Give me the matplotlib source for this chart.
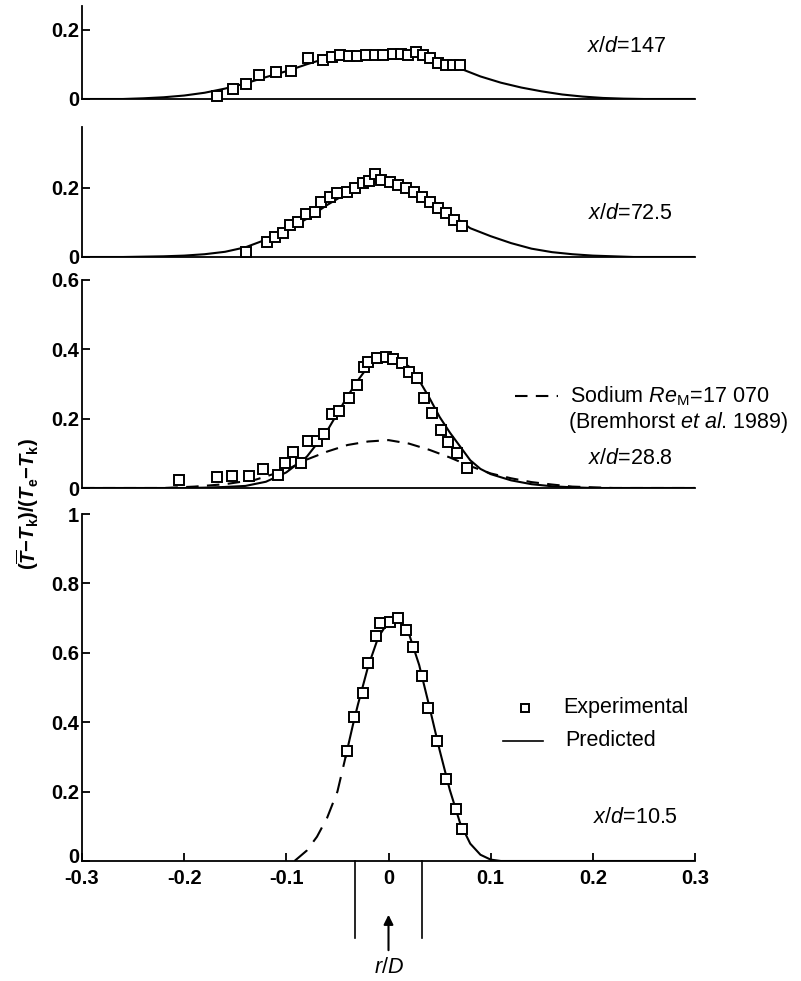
import matplotlib
matplotlib.use('Agg')
import matplotlib.pyplot as plt
import matplotlib.transforms as mtransforms
import numpy as np

plt.rcParams['font.family'] = ['Liberation Sans', 'DejaVu Sans']
plt.rcParams['mathtext.fontset'] = 'custom'
plt.rcParams['mathtext.it'] = 'Liberation Sans:italic'
plt.rcParams['mathtext.rm'] = 'Liberation Sans'
plt.rcParams['mathtext.bf'] = 'Liberation Sans:bold:italic'
plt.rcParams['mathtext.sf'] = 'Liberation Sans:bold'

# x/d = 147
exp147_r = [-0.168, -0.152, -0.139, -0.127, -0.110, -0.095, -0.079, -0.064, -0.055, -0.047,
            -0.039, -0.031, -0.022, -0.013, -0.005, 0.004, 0.012, 0.019, 0.027, 0.034,
            0.041, 0.048, 0.056, 0.063, 0.070]
exp147_v = [0.010, 0.030, 0.043, 0.069, 0.079, 0.081, 0.117, 0.113, 0.120, 0.127,
            0.125, 0.124, 0.126, 0.127, 0.128, 0.130, 0.130, 0.128, 0.135, 0.126,
            0.117, 0.105, 0.098, 0.097, 0.098]
pred147_r = [-0.30, -0.26, -0.24, -0.22, -0.20, -0.18, -0.16, -0.14, -0.12, -0.10, -0.08,
             -0.06, -0.04, -0.02, 0.0, 0.02, 0.03, 0.05, 0.07, 0.09, 0.11, 0.13, 0.15,
             0.17, 0.19, 0.21, 0.23, 0.25, 0.30]
pred147_v = [0.0, 0.0, 0.002, 0.005, 0.010, 0.018, 0.030, 0.045, 0.063, 0.080, 0.100,
             0.118, 0.125, 0.127, 0.128, 0.130, 0.128, 0.108, 0.088, 0.065, 0.047, 0.033,
             0.022, 0.013, 0.007, 0.003, 0.001, 0.0, 0.0]

# x/d = 72.5
exp72_r = [-0.139, -0.119, -0.111, -0.103, -0.096, -0.089, -0.081, -0.072, -0.066, -0.057,
           -0.050, -0.041, -0.033, -0.025, -0.019, -0.013, -0.007, 0.001, 0.009, 0.017,
           0.025, 0.033, 0.041, 0.048, 0.056, 0.064, 0.072]
exp72_v = [0.014, 0.043, 0.058, 0.069, 0.092, 0.100, 0.124, 0.130, 0.159, 0.173,
           0.184, 0.188, 0.200, 0.214, 0.219, 0.240, 0.221, 0.216, 0.207, 0.198,
           0.186, 0.174, 0.158, 0.142, 0.126, 0.108, 0.090]
pred72_r = [-0.30, -0.26, -0.22, -0.20, -0.18, -0.16, -0.14, -0.12, -0.10, -0.08, -0.06,
            -0.04, -0.02, -0.01, 0.0, 0.02, 0.04, 0.06, 0.08, 0.10, 0.12, 0.14, 0.16,
            0.18, 0.20, 0.22, 0.24, 0.30]
pred72_v = [0.0, 0.0, 0.002, 0.004, 0.008, 0.015, 0.028, 0.050, 0.078, 0.110, 0.150,
            0.185, 0.212, 0.218, 0.217, 0.205, 0.170, 0.125, 0.083, 0.060, 0.040, 0.024,
            0.014, 0.008, 0.004, 0.002, 0.0, 0.0]

# x/d = 28.8
exp28_r = [-0.205, -0.168, -0.153, -0.137, -0.123, -0.108, -0.101, -0.093, -0.086, -0.079,
           -0.070, -0.063, -0.055, -0.048, -0.039, -0.031, -0.024, -0.020, -0.011, -0.002,
           0.004, 0.013, 0.020, 0.028, 0.035, 0.043, 0.051, 0.058, 0.067, 0.077]
exp28_v = [0.023, 0.032, 0.035, 0.035, 0.055, 0.037, 0.072, 0.104, 0.072, 0.135,
           0.135, 0.156, 0.213, 0.222, 0.259, 0.297, 0.349, 0.363, 0.375, 0.378,
           0.372, 0.360, 0.334, 0.317, 0.259, 0.216, 0.167, 0.133, 0.100, 0.058]
pred28_r = [-0.30, -0.20, -0.18, -0.16, -0.14, -0.12, -0.10, -0.08, -0.06, -0.05, -0.04,
            -0.03, -0.02, -0.01, 0.0, 0.01, 0.02, 0.03, 0.04, 0.05, 0.06, 0.07, 0.08,
            0.09, 0.10, 0.12, 0.14, 0.16, 0.18, 0.20, 0.30]
pred28_v = [0.0, 0.0, 0.001, 0.003, 0.006, 0.018, 0.045, 0.090, 0.165, 0.215, 0.265,
            0.310, 0.350, 0.370, 0.375, 0.370, 0.350, 0.310, 0.260, 0.205, 0.160, 0.120,
            0.080, 0.055, 0.040, 0.022, 0.011, 0.005, 0.002, 0.0, 0.0]
sodium_r = [-0.30, -0.22, -0.19, -0.16, -0.13, -0.10, -0.08, -0.06, -0.04, -0.02, 0.0,
            0.02, 0.04, 0.06, 0.08, 0.10, 0.12, 0.14, 0.16, 0.18, 0.20, 0.22, 0.30]
sodium_v = [0.0, 0.0, 0.004, 0.011, 0.024, 0.052, 0.082, 0.105, 0.124, 0.134, 0.138,
            0.128, 0.110, 0.088, 0.063, 0.042, 0.028, 0.017, 0.010, 0.004, 0.002, 0.0, 0.0]

# x/d = 10.5
exp10_r = [-0.041, -0.034, -0.025, -0.020, -0.012, -0.008, 0.001, 0.009, 0.017, 0.024,
           0.033, 0.039, 0.047, 0.056, 0.066, 0.072]
exp10_v = [0.317, 0.415, 0.484, 0.570, 0.648, 0.686, 0.689, 0.700, 0.666, 0.617,
           0.533, 0.440, 0.346, 0.236, 0.150, 0.092]
pred10_r = [-0.042, -0.035, -0.03, -0.02, -0.01, 0.0, 0.005, 0.01, 0.02, 0.03, 0.04,
            0.05, 0.06, 0.07, 0.08, 0.09, 0.10, 0.11, 0.20, 0.30]
pred10_v = [0.30, 0.39, 0.45, 0.56, 0.645, 0.69, 0.70, 0.695, 0.655, 0.565, 0.445,
            0.32, 0.205, 0.11, 0.05, 0.018, 0.004, 0.0, 0.0, 0.0]
dash10_r = [-0.092, -0.08, -0.07, -0.06, -0.05, -0.042]
dash10_v = [0.0, 0.03, 0.07, 0.125, 0.20, 0.30]

x_ticks = [-0.3, -0.2, -0.1, 0, 0.1, 0.2, 0.3]
x_ticklabels = ['-0.3', '-0.2', '-0.1', '0', '0.1', '0.2', '0.3']

W, H = 801, 981
PX = 347.0  # pixels per unit of the ordinate, same in every panel
X0, X1 = 82, 695
FS = 15.5   # annotation text
TS = 14.5   # tick labels

fig = plt.figure(figsize=(W / 100, H / 100), dpi=100)


def make_axes(zero_px, ymax, yticks, ylabels):
    h = ymax * PX
    ax = fig.add_axes([X0 / W, (H - zero_px) / H, (X1 - X0) / W, h / H])
    ax.set_xlim(-0.3, 0.3)
    ax.set_ylim(0, ymax)
    for s in ['top', 'right']:
        ax.spines[s].set_visible(False)
    for s in ['left', 'bottom']:
        ax.spines[s].set_linewidth(1.3)
    ax.set_yticks(yticks)
    ax.set_yticklabels(ylabels, fontsize=TS, fontweight='bold')
    ax.tick_params(axis='y', direction='in', length=6, width=1.3, pad=2)
    ax.set_xticks([])
    return ax


mk = dict(marker='s', ms=6.5, mfc='white', mec='black', mew=1.4, ls='none',
          zorder=3, clip_on=False)
ln = dict(color='black', lw=1.5)

ax1 = make_axes(99, 0.267, [0, 0.2], ['0', '0.2'])
ax1.plot(pred147_r, pred147_v, **ln)
ax1.plot(exp147_r, exp147_v, **mk)
ax1.text(0.194, 0.15, r'$x/d$=147', fontsize=FS, va='center')

ax2 = make_axes(257, 0.374, [0, 0.2], ['0', '0.2'])
ax2.plot(pred72_r, pred72_v, **ln)
ax2.plot(exp72_r, exp72_v, **mk)
ax2.text(0.195, 0.124, r'$x/d$=72.5', fontsize=FS, va='center')

ax3 = make_axes(488, 0.6, [0, 0.2, 0.4, 0.6], ['0', '0.2', '0.4', '0.6'])
ax3.plot(pred28_r, pred28_v, **ln)
ax3.plot(sodium_r, sodium_v, color='black', lw=1.5, dashes=(6, 4))
ax3.plot(exp28_r, exp28_v, **mk)
ax3.plot([0.124, 0.166], [0.265, 0.265], color='black', lw=1.5, dashes=(6, 4), clip_on=False)
ax3.text(0.178, 0.265, r'Sodium $Re$$_{\mathrm{M}}$=17 070', fontsize=FS, va='center')
ax3.text(0.176, 0.19, r'(Bremhorst $et$ $al$. 1989)', fontsize=FS, va='center')
ax3.text(0.195, 0.084, r'$x/d$=28.8', fontsize=FS, va='center')

ax4 = make_axes(861, 1.0, [0, 0.2, 0.4, 0.6, 0.8, 1.0],
                ['0', '0.2', '0.4', '0.6', '0.8', '1'])
ax4.plot(pred10_r, pred10_v, **ln)
ax4.plot(dash10_r, dash10_v, color='black', lw=1.5, dashes=(8, 5))
ax4.plot(exp10_r, exp10_v, **mk)
ax4.set_xticks(x_ticks)
ax4.set_xticklabels(x_ticklabels, fontsize=TS, fontweight='bold')
ax4.tick_params(axis='x', direction='in', length=6, width=1.3, pad=6)
# lift the corner "0" a little so it sits above "-0.3"
lift = mtransforms.ScaledTranslation(0, 4 / 72, fig.dpi_scale_trans)
zero_lbl = ax4.get_yticklabels()[0]
zero_lbl.set_transform(zero_lbl.get_transform() + lift)

# legend drawn by hand, as in the original
ax4.plot([0.134], [0.441], marker='s', ms=6, mfc='white', mec='black', mew=1.4,
         clip_on=False)
ax4.text(0.171, 0.441, 'Experimental', fontsize=FS, va='center')
ax4.plot([0.112, 0.151], [0.346, 0.346], color='black', lw=1.2, clip_on=False)
ax4.text(0.173, 0.346, 'Predicted', fontsize=FS, va='center')
ax4.text(0.2, 0.124, r'$x/d$=10.5', fontsize=FS, va='center')

# nozzle marks and r/D arrow under the axis
for xr in [-0.033, 0.033]:
    ax4.plot([xr, xr], [0, -0.222], color='black', lw=1.2, clip_on=False)
ax4.annotate('', xy=(0, -0.147), xytext=(0, -0.265),
             arrowprops=dict(arrowstyle='-|>', lw=1.5, color='black',
                             mutation_scale=14),
             annotation_clip=False)
ax4.text(0, -0.308, r'$r/D$', fontsize=FS, ha='center', va='center')

fig.text(28 / W, 1 - 504 / H,
         r'$\mathsf{(}\overline{\mathbf{T}}\mathsf{-}\mathbf{T}_{\mathsf{k}}\mathsf{)/(}'
         r'\mathbf{T}_{\mathsf{e}}\mathsf{-}\mathbf{T}_{\mathsf{k}}\mathsf{)}$',
         rotation=90, ha='center', va='center', fontsize=14.5)

fig.savefig('out.png', dpi=100)
